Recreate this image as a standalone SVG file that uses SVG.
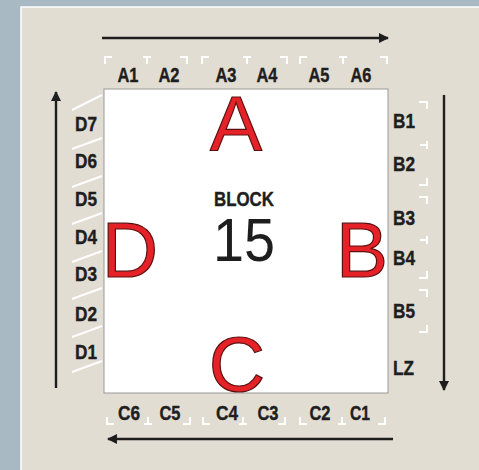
<svg xmlns="http://www.w3.org/2000/svg" width="479" height="470" viewBox="0 0 479 470">
<defs>
<style>
.lbl{font-family:"Liberation Sans",Arial,sans-serif;font-weight:bold;font-size:20px;fill:#1e1e1e;stroke:#1e1e1e;stroke-width:0.4}
.big{font-family:"Liberation Sans",Arial,sans-serif;font-size:78px;fill:#e52228;stroke:#5a1010;stroke-width:1.2}
.mk{fill:none;stroke:#ffffff;stroke-width:2}
.ar{stroke:#1e1e1e;stroke-width:2.4;fill:none}
</style>
<marker id="ah" viewBox="0 0 10 10" refX="9" refY="5" markerWidth="11" markerHeight="10" markerUnits="userSpaceOnUse" orient="auto">
<path d="M0,0 L10,5 L0,10 z" fill="#1e1e1e"/>
</marker>
</defs>
<rect x="0" y="0" width="479" height="470" fill="#a8b9c3"/>
<rect x="21" y="7" width="460" height="465" fill="#e2ddd3" stroke="#ffffff" stroke-width="1.5"/>
<g id="block">
<rect x="104" y="89" width="284" height="304" fill="#ffffff" stroke="#9a9a9a" stroke-width="1"/>
<text x="244" y="206" text-anchor="middle" class="lbl" font-size="21" textLength="60" lengthAdjust="spacingAndGlyphs">BLOCK</text>
<text x="244" y="261" text-anchor="middle" font-family="Liberation Sans,Arial,sans-serif" font-size="62" fill="#1e1e1e" textLength="62" lengthAdjust="spacingAndGlyphs">15</text>
</g>
<g id="side-A">
<text x="236" y="151" text-anchor="middle" class="big">A</text>
<text x="128" y="82" text-anchor="middle" class="lbl" textLength="21" lengthAdjust="spacingAndGlyphs">A1</text>
<text x="169" y="82" text-anchor="middle" class="lbl" textLength="21" lengthAdjust="spacingAndGlyphs">A2</text>
<text x="226" y="82" text-anchor="middle" class="lbl" textLength="21" lengthAdjust="spacingAndGlyphs">A3</text>
<text x="267" y="82" text-anchor="middle" class="lbl" textLength="21" lengthAdjust="spacingAndGlyphs">A4</text>
<text x="319" y="82" text-anchor="middle" class="lbl" textLength="21" lengthAdjust="spacingAndGlyphs">A5</text>
<text x="361" y="82" text-anchor="middle" class="lbl" textLength="21" lengthAdjust="spacingAndGlyphs">A6</text>
<path class="mk" d="M105,64 V57 H112 M143,57 H151 M147,57 V64 M180,57 H187 V64 M202,64 V57 H209 M243,57 H251 M247,57 V64 M280,57 H287 V64 M300,64 V57 H307 M339,57 H347 M343,57 V64 M380,57 H387 V64"/>
</g>
<g id="side-B">
<text x="362" y="277" text-anchor="middle" class="big">B</text>
<text x="393" y="128" class="lbl" textLength="22" lengthAdjust="spacingAndGlyphs">B1</text>
<text x="393" y="171" class="lbl" textLength="22" lengthAdjust="spacingAndGlyphs">B2</text>
<text x="393" y="225" class="lbl" textLength="22" lengthAdjust="spacingAndGlyphs">B3</text>
<text x="393" y="265" class="lbl" textLength="22" lengthAdjust="spacingAndGlyphs">B4</text>
<text x="393" y="318" class="lbl" textLength="22" lengthAdjust="spacingAndGlyphs">B5</text>
<text x="393" y="375" class="lbl" textLength="21" lengthAdjust="spacingAndGlyphs">LZ</text>
<path class="mk" d="M419,102 H427 V109 M420,145 H427 M427,141 V149 M427,178 V185 H419 M419,197 H427 V204 M420,240 H427 M427,236 V244 M427,271 V278 H419 M419,290 H427 V297 M427,325 V332 H419"/>
</g>
<g id="side-C">
<text x="237" y="391" text-anchor="middle" class="big">C</text>
<text x="129" y="420" text-anchor="middle" class="lbl" textLength="22" lengthAdjust="spacingAndGlyphs">C6</text>
<text x="170" y="420" text-anchor="middle" class="lbl" textLength="21" lengthAdjust="spacingAndGlyphs">C5</text>
<text x="227" y="420" text-anchor="middle" class="lbl" textLength="22" lengthAdjust="spacingAndGlyphs">C4</text>
<text x="268" y="420" text-anchor="middle" class="lbl" textLength="21" lengthAdjust="spacingAndGlyphs">C3</text>
<text x="320" y="420" text-anchor="middle" class="lbl" textLength="21" lengthAdjust="spacingAndGlyphs">C2</text>
<text x="360" y="420" text-anchor="middle" class="lbl" textLength="20" lengthAdjust="spacingAndGlyphs">C1</text>
<path class="mk" d="M107,417 V424 H114 M144,424 H152 M148,417 V424 M183,424 H190 V417 M203,417 V424 H210 M239,424 H247 M243,417 V424 M278,424 H285 V417 M300,417 V424 H307 M338,424 H346 M342,417 V424 M378,424 H385 V417"/>
</g>
<g id="side-D">
<text x="130" y="277" text-anchor="middle" class="big">D</text>
<text x="86" y="131" text-anchor="middle" class="lbl" textLength="22" lengthAdjust="spacingAndGlyphs">D7</text>
<text x="86" y="168" text-anchor="middle" class="lbl" textLength="22" lengthAdjust="spacingAndGlyphs">D6</text>
<text x="86" y="206" text-anchor="middle" class="lbl" textLength="22" lengthAdjust="spacingAndGlyphs">D5</text>
<text x="86" y="244" text-anchor="middle" class="lbl" textLength="22" lengthAdjust="spacingAndGlyphs">D4</text>
<text x="86" y="281" text-anchor="middle" class="lbl" textLength="22" lengthAdjust="spacingAndGlyphs">D3</text>
<text x="86" y="321" text-anchor="middle" class="lbl" textLength="22" lengthAdjust="spacingAndGlyphs">D2</text>
<text x="86" y="359" text-anchor="middle" class="lbl" textLength="22" lengthAdjust="spacingAndGlyphs">D1</text>
<path class="mk" stroke-width="1.5" d="M72,110 L102,95 M72,149 L102,138 M72,187 L102,176 M72,224 L102,213 M72,262 L102,251 M72,299 L102,288 M72,337 L102,326 M72,372 L102,361"/>
</g>
<g id="connectors">
<line class="ar" x1="102" y1="38" x2="388" y2="38" marker-end="url(#ah)"/>
<line class="ar" x1="444" y1="95" x2="444" y2="390" marker-end="url(#ah)"/>
<line class="ar" x1="393" y1="439" x2="108" y2="439" marker-end="url(#ah)"/>
<line class="ar" x1="56" y1="388" x2="56" y2="92" marker-end="url(#ah)"/>
</g>
</svg>
